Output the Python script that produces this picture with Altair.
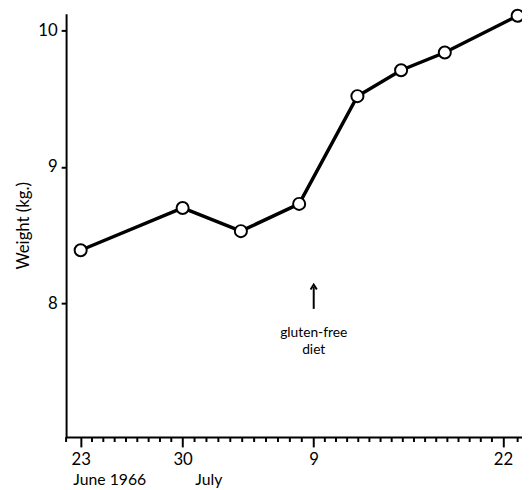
import altair as alt
import numpy as np
import pandas as pd

# days since 23 June 1966
days = [0, 7, 11, 15, 19, 22, 25, 30]
weights = [8.39, 8.70, 8.53, 8.73, 9.52, 9.71, 9.84, 10.11]

tick_days = [0, 7, 16, 29]
tick_labels = ["23", "30", "9", "22"]
minor_segments = [(-1, 0, 1), (0, 7, 9), (7, 16, 11), (16, 29, 17), (29, 30, 1)]

month_days = [2.0, 8.8]
month_labels = ["June 1966", "July"]

arrow_day = 16
arrow_from = 7.96
arrow_to = 8.12
note_lines = ["gluten-free", "diet"]
note_weight = 7.78

FONT = "Lato"
W, H = 463, 430

df = pd.DataFrame({"day": days, "weight": weights})
minor = sorted(set(np.round(np.concatenate([np.linspace(a, b, n + 1) for a, b, n in minor_segments]), 4)) - set(tick_days))
minor_df = pd.DataFrame({"day": minor})
months_df = pd.DataFrame({"day": month_days, "label": month_labels})
arrow_df = pd.DataFrame({"day": [arrow_day], "y1": [arrow_from], "y2": [arrow_to]})
note_df = pd.DataFrame({"day": [arrow_day], "weight": [note_weight]})

label_expr = "[" + ",".join(f"'{t}'" for t in tick_labels) + "][indexof([" + ",".join(str(d) for d in tick_days) + "], datum.value)]"

xscale = alt.Scale(domain=[-1, 30.3], nice=False, zero=False)
yscale = alt.Scale(domain=[7.02, 10.125], nice=False, zero=False)

x_enc = alt.X("day:Q", scale=xscale, axis=alt.Axis(
    values=tick_days, labelExpr=label_expr, tickSize=10, tickWidth=2, tickColor="black",
    domainWidth=2, domainColor="black", labelFontSize=17, labelColor="black", labelFont=FONT,
    labelPadding=5, grid=False, title=None))
y_enc = alt.Y("weight:Q", scale=yscale, axis=alt.Axis(
    values=[8, 9, 10], format="d", tickSize=5, tickWidth=2, tickColor="black", domainWidth=2,
    domainColor="black", labelFontSize=17, labelColor="black", labelFont=FONT, labelPadding=4,
    grid=False, title="Weight (kg.)", titleFont=FONT, titleFontSize=17, titleFontWeight="normal",
    titleColor="black", titlePadding=5))

base = alt.Chart(df)
line = base.mark_line(color="black", strokeWidth=3.5).encode(x=x_enc, y=y_enc)
pts = base.mark_point(shape="circle", fill="white", stroke="black", strokeWidth=2, size=150,
                      opacity=1, fillOpacity=1).encode(x="day:Q", y="weight:Q")

minor_ticks = alt.Chart(minor_df).mark_rule(color="black", strokeWidth=2).encode(
    x="day:Q", y=alt.value(H), y2=alt.value(H + 5))

months = alt.Chart(months_df).mark_text(font=FONT, fontSize=16, color="black", baseline="top").encode(
    x="day:Q", y=alt.value(H + 36), text="label:N")

shaft = alt.Chart(arrow_df).mark_rule(color="black", strokeWidth=2).encode(
    x="day:Q", y="y1:Q", y2="y2:Q")
head = alt.Chart(arrow_df).mark_point(shape="M-1,0.8L0,-0.8L1,0.8", filled=False, stroke="black",
                                      strokeWidth=2, size=40, opacity=1).encode(
    x="day:Q", y=alt.Y("y2:Q"))
note = alt.Chart(note_df).mark_text(font=FONT, fontSize=14, color="black", text=note_lines,
                                    lineHeight=17, baseline="middle").encode(
    x="day:Q", y="weight:Q")

chart = alt.layer(line, pts, minor_ticks, months, shaft, head, note).properties(
    width=W, height=H,
    background="white",
    autosize=alt.AutoSizeParams(type="none"),
    padding={"left": 59, "top": 2, "right": 0, "bottom": 50},
).configure_view(stroke=None)

chart.save("out.html", embed_options={"renderer": "svg", "actions": False})
